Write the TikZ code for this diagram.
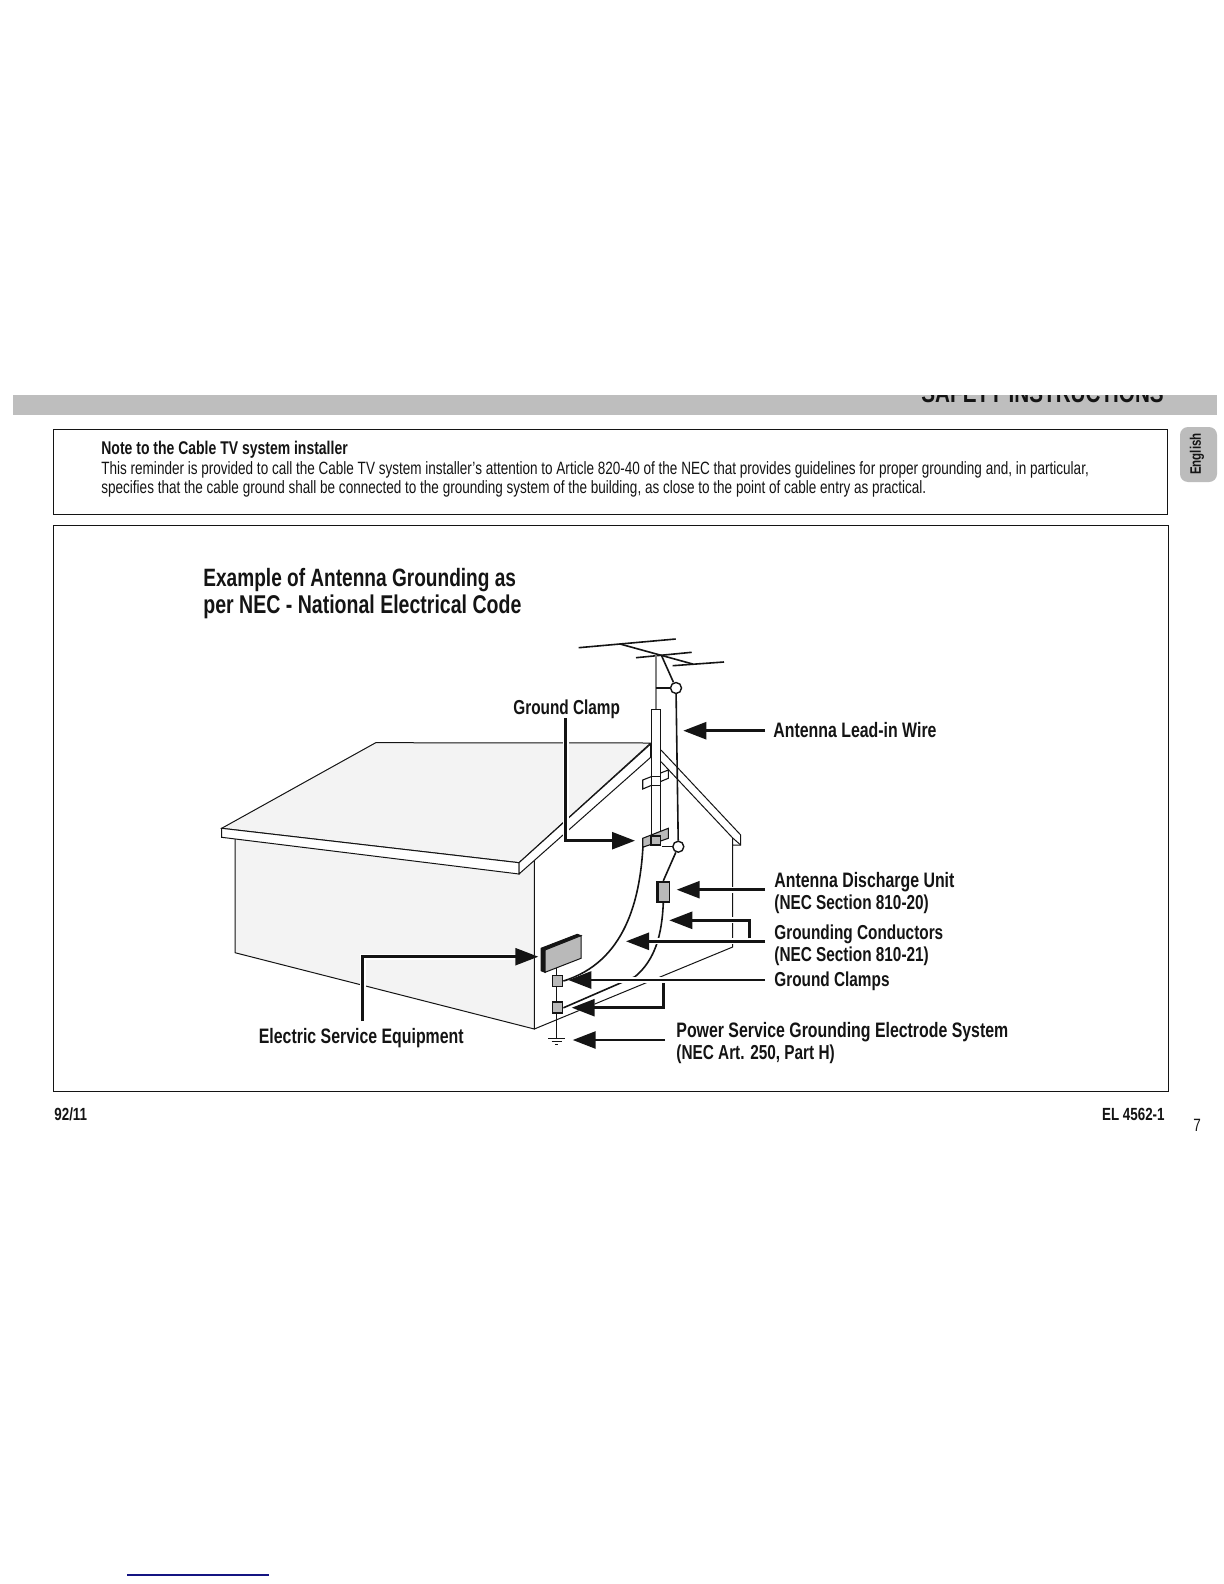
\documentclass[tikz,border=0pt]{standalone}
\usepackage{xcolor}
\usepackage{fontspec}
\setmainfont{Liberation Sans}[FakeStretch=0.76]
\usepackage{tikz}
\usetikzlibrary{arrows.meta, calc}
\definecolor{myink}{RGB}{20,20,20}
\definecolor{myband}{RGB}{190,190,190}
\definecolor{mytab}{RGB}{188,188,188}
\definecolor{myshade}{RGB}{243,243,243}
\definecolor{mybox}{RGB}{185,185,185}
\definecolor{myblue}{RGB}{20,20,130}
\tikzset{
  label/.style={anchor=base west, inner sep=0pt, font=\fontsize{10.45}{12}\selectfont\bfseries, color=myink},
  slimlabel/.style={label, font=\fontsize{10.1}{12}\selectfont\bfseries},
  title/.style={anchor=base west, inner sep=0pt, font=\fontsize{12.55}{14}\selectfont\bfseries, color=myink},
  note/.style={anchor=base west, inner sep=0pt, font=\fontsize{8.9}{10}\selectfont, color=myink},
  foot/.style={anchor=base west, inner sep=0pt, font=\fontsize{8.8}{10}\selectfont\bfseries, color=myink},
  frame/.style={draw=myink, line width=0.5pt},
  wall/.style={draw=myink, line width=0.5pt},
  wire/.style={draw=myink, line width=0.8pt},
  thinwire/.style={draw=myink, line width=0.55pt},
  leader/.style={-{Triangle[length=11.5pt,width=8.5pt]}, draw=myink, line width=1.3pt,
    preaction={draw=white, line width=3pt}},
  clampbox/.style={draw=myink, fill=mybox, line width=0.9pt, inner sep=0pt},
  ring/.style={circle, draw=myink, fill=white, line width=0.7pt, minimum size=5.5pt, inner sep=0pt}
}
\begin{document}
\begin{tikzpicture}[x=0.5pt, y=-0.5pt]
  \useasboundingbox (0,0) rectangle (1224,1584);
  \fill[white] (0,0) rectangle (1224,1584);

  % Header band
  \fill[myband] (13,395) rectangle (1217,415);
  \begin{scope}
    \clip (13,395) rectangle (1217,402);
    \node[anchor=base west, inner sep=0pt, font=\fontsize{13.6}{16}\selectfont\bfseries, color=myink] (hdr) at (921,402) {SAFETY INSTRUCTIONS};
  \end{scope}

  % Language tab
  \fill[mytab, rounded corners=4pt] (1180,427) rectangle (1217,482);
  \node[rotate=90, inner sep=0pt, font=\fontsize{7.6}{9}\selectfont\bfseries, color=myink] (tab) at (1197,454) {English};

  % Note box
  \draw[frame] (53.5,429) rectangle (1167.5,514);
  \node[note, font=\fontsize{9.2}{11}\selectfont\bfseries] (notehd) at (101,454) {Note to the Cable TV system installer};
  \node[note] (noteone) at (101,474) {This reminder is provided to call the Cable TV system installer's attention to Article 820-40 of the NEC that provides guidelines for proper grounding and, in particular,};
  \node[note] (notetwo) at (101,493.5) {specifies that the cable ground shall be connected to the grounding system of the building, as close to the point of cable entry as practical.};

  % Diagram box
  \draw[frame] (53.5,525) rectangle (1168.5,1091);
  \node[title] (titleone) at (203,586) {Example of Antenna Grounding as};
  \node[title, font=\fontsize{12.85}{14}\selectfont\bfseries] (titletwo) at (203,613) {per NEC - National Electrical Code};

  % House walls
  \filldraw[wall, fill=myshade] (235,835) -- (534.3,855) -- (534.3,1029) -- (235,952.7) -- cycle;
  \draw[wall] (534.3,1029) -- (732.7,947) -- (732.7,845);

  % Roof
  \filldraw[wall, fill=myshade] (375.7,742.7) -- (650.7,743) -- (519,862.7) -- (221.7,828.3) -- cycle;
  \filldraw[wall, fill=white] (221.7,828.3) -- (519,862.7) -- (519,874) -- (221.7,837.3) -- cycle;
  \filldraw[wall, fill=white] (519,862.7) -- (650.7,744) -- (650.7,757.3) -- (519,874) -- cycle;

  % Gable
  \draw[wall] (661,750) -- (740.7,835) -- (740.7,845) -- (732.7,845) -- (732.7,838) -- (661,761.7);
  \draw[wall] (732.7,838) -- (740.7,845);

  % Antenna
  \draw[wire] (578.7,647.7) -- (675.7,639);
  \draw[wire] (620,644) -- (692.7,664);
  \draw[wire] (636,657.7) -- (691.7,652.3);
  \draw[wire] (672.7,665.7) -- (724,662);
  \draw[draw=gray, line width=1.2pt] (655.7,655) -- (655.7,709);
  \node[ring] (topring) at (676,688) {};
  \node[ring] (lowring) at (678.3,846.7) {};
  \coordinate (yagi) at (661.7,656);
  \coordinate (mastring) at (655.7,688);
  \coordinate (lowstub) at (661.7,846.7);
  \draw[wire] (yagi) -- (topring);
  \draw[thinwire] (mastring) -- (topring);
  \draw[wire] (topring) -- (lowring);
  \draw[thinwire] (lowstub) -- (lowring);

  % Upper strap
  \filldraw[thinwire, fill=white] (642.7,780) -- (668.3,770) -- (668.3,778.3) -- (642.7,789) -- cycle;

  % Mast
  \filldraw[wall, fill=white] (651,709.3) rectangle (660.3,842);
  \filldraw[wall, fill=white] (651,776.7) rectangle (660.3,785.7);

  % Lower clamp
  \filldraw[thinwire, fill=mybox] (642.7,838.3) -- (668.3,828.3) -- (668.3,838.3) -- (642.7,847.3) -- cycle;
  \filldraw[thinwire, fill=mybox] (651,836) rectangle (660.3,845);

  % Ground wire
  \coordinate (boxfoot) at (556.7,967.9);
  \coordinate (groundtop) at (556.7,1038.3);
  \draw[thinwire] (boxfoot) -- (groundtop);
  \draw[thinwire] (548.3,1038.3) -- (565,1038.3);
  \draw[thinwire] (551.7,1041.5) -- (561.7,1041.5);
  \draw[thinwire] (555,1044.5) -- (558.4,1044.5);

  % Conductors
  \node[clampbox, minimum width=6.2pt, minimum height=10pt] (discharge) at (663.3,891.7) {};
  \fill[myink] (discharge.north west) rectangle ($(discharge.south west)+(3,0)$);
  \node[clampbox, minimum width=5pt, minimum height=5.5pt] (clampa) at (557.5,981) {};
  \node[clampbox, minimum width=5pt, minimum height=5.5pt] (clampb) at (557.5,1007.8) {};
  \coordinate (strapfoot) at (643,846);
  \coordinate (bend) at (635,976.7);
  \draw[wire] (strapfoot) .. controls (640,900) and (625,962) .. (clampa.east);
  \draw[wire] (lowring) -- (discharge.north);
  \draw[wire] (discharge.south) .. controls (662,935) and (655,960) .. (bend);
  \draw[wire] (bend) -- (clampb.east);

  % Service equipment
  \filldraw[draw=myink, fill=myink, line width=0.5pt] (541,948.3) -- (577.3,934.3) -- (581,935.7) -- (545,950) -- (545,972.3) -- (541,970.7) -- cycle;
  \filldraw[draw=myink, fill=mybox, line width=0.5pt] (545,950) -- (581,935.7) -- (581,958.3) -- (545,972.3) -- cycle;

  % Labels
  \node[slimlabel] (groundclamp) at (513,714) {Ground Clamp};
  \node[label] (leadin) at (773,737) {Antenna Lead-in Wire};
  \node[label] (dischargelbl) at (774,887) {Antenna Discharge Unit};
  \node[slimlabel] (dischargesec) at (774,909) {(NEC Section 810-20)};
  \node[slimlabel] (conductors) at (774,939) {Grounding Conductors};
  \node[slimlabel] (conductsec) at (774,961) {(NEC Section 810-21)};
  \node[slimlabel] (groundclamps) at (774,986) {Ground Clamps};
  \node[label] (electric) at (258.5,1043) {Electric Service Equipment};
  \node[label] (power) at (676,1037) {Power Service Grounding Electrode System};
  \node[slimlabel] (powersec) at (676,1059) {(NEC Art. 250, Part H)};

  % Leaders
  \coordinate (gcstart) at (565.7,718.3);
  \coordinate (gctip) at (635,840.7);
  \coordinate (leadend) at (765,730.7);
  \coordinate (leadtip) at (683.3,730.7);
  \coordinate (duend) at (765,889.7);
  \coordinate (dutip) at (676.7,889.7);
  \coordinate (gcbranch) at (749.3,938.3);
  \coordinate (gcuptip) at (669.3,920.3);
  \coordinate (gcend) at (765,941.3);
  \coordinate (gctiplow) at (626,941.3);
  \coordinate (clampend) at (765,980);
  \coordinate (clamptip) at (568.3,980);
  \coordinate (clampbranch) at (663.3,983.3);
  \coordinate (clamptiplow) at (571.7,1007.7);
  \coordinate (powerend) at (665,1040);
  \coordinate (powertip) at (572.7,1040);
  \coordinate (esestart) at (362.7,1021);
  \coordinate (esetip) at (538.3,956.7);
  \draw[leader] (gcstart) |- (gctip);
  \draw[leader] (leadend) -- (leadtip);
  \draw[leader] (duend) -- (dutip);
  \draw[leader] (gcend) -- (gctiplow);
  \draw[leader] (gcbranch) |- (gcuptip);
  \draw[leader] (clampend) -- (clamptip);
  \draw[leader] (clampbranch) |- (clamptiplow);
  \draw[leader] (powerend) -- (powertip);
  \draw[leader] (esestart) |- (esetip);

  % Footer
  \node[foot] (date) at (54,1120) {92/11};
  \node[foot, anchor=base east] (code) at (1165,1120) {EL 4562-1};
  \node[note] (page) at (1193,1131) {7};
  \draw[draw=myblue, line width=0.6pt] (127,1575) -- (269,1575);
\end{tikzpicture}
\end{document}
